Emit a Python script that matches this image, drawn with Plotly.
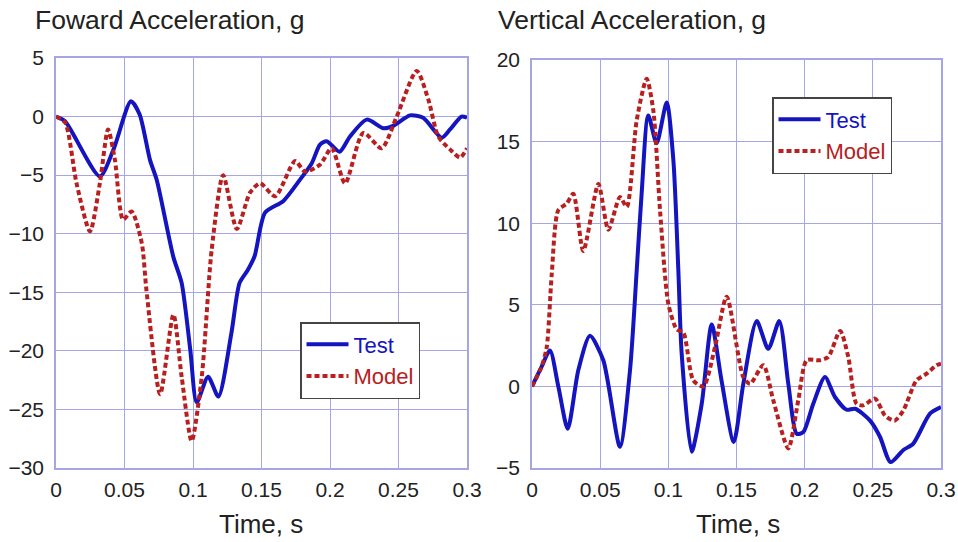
import plotly.graph_objects as go

# ---- data ----
fwd_test_t = [0, 0.0066, 0.032, 0.042, 0.0547, 0.061, 0.0686, 0.0735, 0.0857, 0.0917, 0.098, 0.1027,
              0.111, 0.1185, 0.128, 0.134, 0.140, 0.145, 0.1526, 0.166, 0.178, 0.1866, 0.1927, 0.1976,
              0.207, 0.2146, 0.2268, 0.239, 0.246, 0.2584, 0.268, 0.2815, 0.2876, 0.296, 0.3]
fwd_test_g = [0, -0.4, -5.1, -2.8, 1.3, 0.2, -3.7, -5.4, -12.0, -14.2, -19.9, -24.4,
              -22.2, -23.9, -18.5, -14.2, -13.1, -11.9, -8.2, -7.2, -5.4, -4.0, -2.4, -2.1,
              -3.0, -1.7, -0.26, -1.0, -0.8, 0.1, -0.1, -1.8, -1.1, 0, -0.1]

fwd_model_t = [0, 0.0066, 0.015, 0.0248, 0.032, 0.038, 0.043, 0.049, 0.0552, 0.0626, 0.066, 0.076,
               0.0857, 0.0917, 0.099, 0.1064, 0.1136, 0.122, 0.132, 0.1416, 0.149, 0.16, 0.1745,
               0.1818, 0.1927, 0.2012, 0.211, 0.2243, 0.2377, 0.2487, 0.2633, 0.2718, 0.279, 0.2876,
               0.295, 0.3]
fwd_model_g = [0, -0.5, -5.7, -9.8, -5.7, -1.1, -3.7, -8.8, -8.1, -10.8, -14.8, -23.7,
               -16.9, -22.2, -27.7, -22.2, -11.4, -5.0, -9.6, -6.5, -5.7, -6.8, -3.8,
               -4.7, -4.1, -2.7, -5.7, -1.4, -2.7, 0, 3.9, 1.45, -1.7, -2.8,
               -3.5, -2.7]

vert_test_t = [0, 0.007, 0.0132, 0.0193, 0.0262, 0.034, 0.0425, 0.0523, 0.0645, 0.0719, 0.0768, 0.0804,
               0.0853, 0.0914, 0.0988, 0.1037, 0.1073, 0.1098, 0.1171, 0.1245, 0.1318, 0.139, 0.148,
               0.155, 0.1648, 0.1733, 0.1814, 0.188, 0.1942, 0.199, 0.2063, 0.2149, 0.2222, 0.2308,
               0.237, 0.248, 0.2553, 0.263, 0.2724, 0.2797, 0.2919, 0.3]
vert_test_g = [0, 1.2, 2.2, 0, -2.6, 1.0, 3.1, 1.6, -3.7, 1.0, 7.1, 11.8,
               16.6, 14.9, 17.4, 13.85, 7.2, 2.0, -4.0, -1.06, 3.8, 0.37, -3.4,
               0.16, 4.0, 2.3, 4.0, 0.16, -2.9, -2.8, -1.06, 0.57, -0.65, -1.43,
               -1.37, -2.1, -3.1, -4.64, -3.9, -3.5, -1.67, -1.27]

vert_model_t = [0, 0.007, 0.0108, 0.0145, 0.0193, 0.0254, 0.0303, 0.0376, 0.0487, 0.056, 0.0645, 0.0695,
                0.0768, 0.0841, 0.089, 0.0939, 0.1, 0.1061, 0.111, 0.1183, 0.1257, 0.1342, 0.1428,
                0.155, 0.16, 0.1697, 0.177, 0.188, 0.1953, 0.2015, 0.211, 0.2173, 0.226, 0.232,
                0.238, 0.243, 0.2516, 0.259, 0.266, 0.2724, 0.282, 0.2895, 0.2968, 0.3]
vert_model_g = [0, 1.2, 2.4, 6.9, 10.8, 11.2, 11.8, 8.3, 12.4, 9.6, 11.6, 11.0,
                16.3, 18.85, 16.9, 10.8, 5.07, 3.5, 3.3, 0.37, 0, 2.4, 5.5,
                0.57, 0.16, 1.3, -0.86, -3.8, -0.86, 1.6, 1.6, 1.8, 3.4, 1.8,
                -1.06, -1.16, -0.75, -1.8, -2.1, -1.47, 0.37, 0.78, 1.3, 1.4]

x_ticks = [0, 0.05, 0.1, 0.15, 0.2, 0.25, 0.3]
x_tick_text = ["0", "0.05", "0.1", "0.15", "0.2", "0.25", "0.3"]
fwd_y_ticks = [5, 0, -5, -10, -15, -20, -25, -30]
vert_y_ticks = [20, 15, 10, 5, 0, -5]

titles = ["Foward Acceleration, g", "Vertical Acceleration, g"]
x_title = "Time, s"

# ---- styling ----
W, H = 958, 542
TEST_C = "#1414c0"
MODEL_C = "#b82020"
GRID_C = "#a6a6e6"
FONT = "Liberation Sans, Arial, sans-serif"
TXT = "#222222"

def px_x(p):
    return p / W

def px_y(p):
    return 1 - p / H

fig = go.Figure()

def add(t, g, name, color, dash, xa, ya, legend):
    fig.add_trace(go.Scatter(
        x=t, y=g, mode="lines",
        name=f"<span style='color:{color}'>{name}</span>",
        line=dict(color=color, width=4, dash=dash, shape="spline", smoothing=0.7),
        xaxis=xa, yaxis=ya, legend=legend))

add(fwd_test_t, fwd_test_g, "Test", TEST_C, "solid", "x", "y", "legend")
add(fwd_model_t, fwd_model_g, "Model", MODEL_C, "5px,3px", "x", "y", "legend")
add(vert_test_t, vert_test_g, "Test", TEST_C, "solid", "x2", "y2", "legend2")
add(vert_model_t, vert_model_g, "Model", MODEL_C, "5px,3px", "x2", "y2", "legend2")

axis_common = dict(showgrid=True, gridcolor=GRID_C, gridwidth=1, showline=True, linecolor=GRID_C,
                   linewidth=1.5, mirror=True, zeroline=False, ticks="",
                   tickfont=dict(family=FONT, size=21, color=TXT), automargin=False)

legend_common = dict(xanchor="left", yanchor="top", bgcolor="white", bordercolor="#444444",
                     borderwidth=1.5, font=dict(family=FONT, size=22), tracegroupgap=0,
                     itemwidth=42)

fig.update_layout(
    width=W, height=H, margin=dict(l=0, r=0, t=0, b=0),
    paper_bgcolor="white", plot_bgcolor="white",
    xaxis=dict(domain=[px_x(56), px_x(467)], range=[0, 0.3], tickvals=x_ticks, ticktext=x_tick_text,
               anchor="y", ticklabelstandoff=2, **axis_common),
    yaxis=dict(domain=[px_y(468), px_y(58)], range=[-30, 5], tickvals=fwd_y_ticks, anchor="x",
               ticklabelstandoff=6, **axis_common),
    xaxis2=dict(domain=[px_x(532), px_x(941)], range=[0, 0.3], tickvals=x_ticks, ticktext=x_tick_text,
                anchor="y2", ticklabelstandoff=2, **axis_common),
    yaxis2=dict(domain=[px_y(468), px_y(60)], range=[-5, 20], tickvals=vert_y_ticks, anchor="x2",
                ticklabelstandoff=6, **axis_common),
    legend=dict(x=px_x(300), y=px_y(322), **legend_common),
    legend2=dict(x=px_x(772), y=px_y(97), **legend_common),
    showlegend=True,
)

annos = [
    dict(text=titles[0], x=px_x(33), y=px_y(20), xanchor="left", yanchor="middle", size=26.5),
    dict(text=titles[1], x=px_x(496), y=px_y(20), xanchor="left", yanchor="middle", size=26.5),
    dict(text=x_title, x=px_x(261), y=px_y(524), xanchor="center", yanchor="middle", size=26),
    dict(text=x_title, x=px_x(738), y=px_y(524), xanchor="center", yanchor="middle", size=26),
]
for a in annos:
    fig.add_annotation(text=a["text"], x=a["x"], y=a["y"], xref="paper", yref="paper",
                       xanchor=a["xanchor"], yanchor=a["yanchor"], showarrow=False,
                       font=dict(family=FONT, size=a["size"], color=TXT))

fig.write_html("out.html")
